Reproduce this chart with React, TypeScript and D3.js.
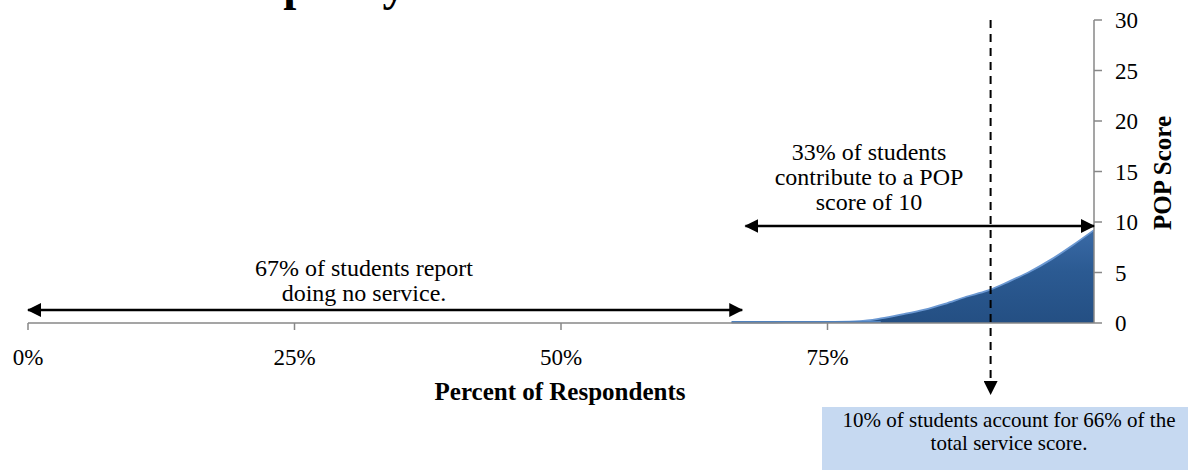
import React from "react";
import * as d3 from "d3";

const pctRespondents = [66, 70, 75, 78, 80, 82, 84, 86, 88, 90, 92, 94, 96, 98, 100];
const popScore = [0.03, 0.05, 0.1, 0.18, 0.45, 0.85, 1.3, 1.9, 2.6, 3.2, 4.1, 5.1, 6.3, 7.7, 9.2];
const xTicks = [0, 25, 50, 75];
const xTickLabels = ["0%", "25%", "50%", "75%"];
const yTicks = [0, 5, 10, 15, 20, 25, 30];
const noServiceRange = [0, 67];
const contributeRange = [67.3, 100];
const topTenLine = 90.3;
const titleText = "Service Disparity";
const xTitle = "Percent of Respondents";
const yTitle = "POP Score";
const noServiceText = ["67% of students report", "doing no service."];
const contributeText = ["33% of students", "contribute to a POP", "score of 10"];
const boxText = ["10% of students account for 66% of the", "total service score."];

const W = 1188;
const H = 470;
const FONT = "'Liberation Serif', 'Times New Roman', serif";

export default function App() {
  const x = d3.scaleLinear().domain([0, 100]).range([28, 1094]);
  const y = d3.scaleLinear().domain([0, 30]).range([323, 20]);
  const pts = pctRespondents.map((p, i) => [p, popScore[i]] as [number, number]);
  const area = d3
    .area<[number, number]>()
    .x((d) => x(d[0]))
    .y0(y(0))
    .y1((d) => y(d[1]))
    .curve(d3.curveMonotoneX);
  const topLine = d3
    .line<[number, number]>()
    .x((d) => x(d[0]))
    .y((d) => y(d[1]))
    .curve(d3.curveMonotoneX);
  const axisColor = "#878787";
  const arrowY1 = 310;
  const arrowY2 = 226;
  const dashX = x(topTenLine);

  return (
    <svg
      width={W}
      height={H}
      style={{ position: "absolute", left: 0, top: 0, background: "#fff" }}
      fontFamily={FONT}
    >
      <defs>
        <marker id="ah" viewBox="0 0 14 14" refX="13" refY="7" markerWidth="14" markerHeight="14" markerUnits="userSpaceOnUse" orient="auto-start-reverse">
          <path d="M0,0 L14,7 L0,14 Z" fill="#000" />
        </marker>
        <linearGradient id="areaGrad" x1="0" y1="0" x2="0" y2="1">
          <stop offset="0%" stopColor="#3a6aa6" />
          <stop offset="45%" stopColor="#2b5a92" />
          <stop offset="100%" stopColor="#244f83" />
        </linearGradient>
      </defs>

      <text x={60} y={-0.5} fontSize={47} fontWeight="bold" fill="#000">{titleText}</text>

      {/* area */}
      <path d={area(pts) || ""} fill="url(#areaGrad)" />
      <path d={topLine(pts) || ""} fill="none" stroke="#6b98d2" strokeWidth={1.8} />
      <line x1={x(66)} x2={x(80)} y1={y(0) - 1} y2={y(0) - 1} stroke="#4f81bd" strokeWidth={2} />

      {/* x axis */}
      <line x1={x(0)} x2={x(100)} y1={y(0)} y2={y(0)} stroke={axisColor} strokeWidth={1.5} />
      {xTicks.map((t, i) => (
        <g key={t}>
          <line x1={x(t)} x2={x(t)} y1={y(0)} y2={y(0) + 7} stroke={axisColor} strokeWidth={1.5} />
          <text x={x(t)} y={365} fontSize={23} textAnchor="middle" fill="#000">{xTickLabels[i]}</text>
        </g>
      ))}
      <text x={560} y={400} fontSize={25} fontWeight="bold" textAnchor="middle" fill="#000">{xTitle}</text>

      {/* y axis */}
      <line x1={x(100)} x2={x(100)} y1={y(0)} y2={y(30)} stroke={axisColor} strokeWidth={1.5} />
      {yTicks.map((t) => (
        <g key={t}>
          <line x1={x(100)} x2={x(100) + 8} y1={y(t)} y2={y(t)} stroke={axisColor} strokeWidth={1.5} />
          <text x={1115} y={y(t) + 8} fontSize={23} fill="#000">{t}</text>
        </g>
      ))}
      <text transform={`translate(1171,173) rotate(-90)`} fontSize={25} fontWeight="bold" textAnchor="middle" fill="#000">{yTitle}</text>

      {/* no-service arrow */}
      <line x1={x(noServiceRange[0])} x2={x(noServiceRange[1])} y1={arrowY1} y2={arrowY1} stroke="#000" strokeWidth={2.5} markerStart="url(#ah)" markerEnd="url(#ah)" />
      {noServiceText.map((t, i) => (
        <text key={t} x={364} y={276 + i * 25} fontSize={24} textAnchor="middle" fill="#000">{t}</text>
      ))}

      {/* contribute arrow */}
      <line x1={x(contributeRange[0])} x2={x(contributeRange[1])} y1={arrowY2} y2={arrowY2} stroke="#000" strokeWidth={2.5} markerStart="url(#ah)" markerEnd="url(#ah)" />
      {contributeText.map((t, i) => (
        <text key={t} x={869} y={160 + i * 25} fontSize={24} textAnchor="middle" fill="#000">{t}</text>
      ))}

      {/* dashed line */}
      <line x1={dashX} x2={dashX} y1={20} y2={394} stroke="#000" strokeWidth={2} strokeDasharray="8,6" markerEnd="url(#ah)" />

      {/* box */}
      <rect x={822} y={407} width={W - 822} height={H - 407} fill="#c6d9f1" />
      {boxText.map((t, i) => (
        <text key={t} x={1009} y={427 + i * 23} fontSize={21} textAnchor="middle" fill="#000">{t}</text>
      ))}
    </svg>
  );
}
